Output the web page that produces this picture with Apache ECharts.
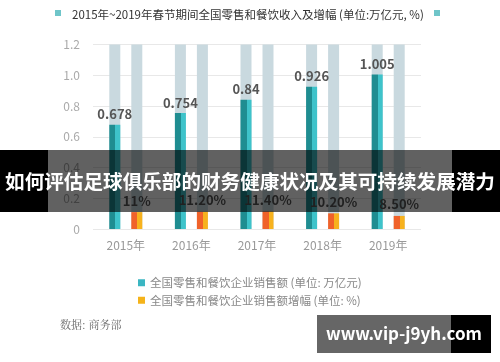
<!DOCTYPE html>
<html><head><meta charset="utf-8">
<script src="https://cdn.jsdelivr.net/npm/echarts@6/dist/echarts.min.js"></script>
<style>html,body{margin:0;padding:0;background:#fff}#c{width:500px;height:362px}</style>
</head><body><div id="c"></div>
<script>
var years = ['2015年','2016年','2017年','2018年','2019年'];
var sales = [0.678, 0.754, 0.84, 0.926, 1.005];
var growthPct = [11, 11.2, 11.4, 10.2, 8.5];
var growthLabels = ['11%','11.20%','11.40%','10.20%','8.50%'];
var yTicks = ['0','0.2','0.4','0.6','0.8','1.0','1.2'];
var titleText = '2015年~2019年春节期间全国零售和餐饮收入及增幅 (单位:万亿元, %)';
var seriesNames = ['全国零售和餐饮企业销售额 (单位: 万亿元)','全国零售和餐饮企业销售额增幅 (单位: %)'];
var bannerText = '如何评估足球俱乐部的财务健康状况及其可持续发展潜力';
var sourceText = '数据: 商务部';
var watermark = 'www.vip-j9yh.com';

var F = '"Noto Sans CJK SC", "Noto Sans", sans-serif';
var chart = echarts.init(document.getElementById('c'), null, {renderer:'canvas'});
function hGrad(a,b){return new echarts.graphic.LinearGradient(0,0,1,0,[{offset:0,color:a},{offset:0.55,color:a},{offset:0.55,color:b},{offset:1,color:b}]);}
chart.setOption({
  animation:false,
  textStyle:{fontFamily:F},
  title:{text:titleText,left:67,top:4,textStyle:{fontSize:11.5,fontWeight:'normal',color:'#333',fontFamily:F}},
  grid:{left:93,right:79,top:44.5,bottom:133},
  legend:{orient:'vertical',left:133,top:272,itemWidth:7,itemHeight:7,itemGap:6,icon:'rect',
    textStyle:{fontSize:11.5,color:'#888',fontFamily:F},
    data:[{name:seriesNames[0],itemStyle:{color:'#3bb6c2'}},{name:seriesNames[1],itemStyle:{color:'#f5b31a'}}]},
  xAxis:{type:'category',data:years,axisLine:{show:false},axisTick:{show:false},
    axisLabel:{color:'#999',fontSize:12,margin:10,fontFamily:F}},
  yAxis:{type:'value',min:0,max:1.2,interval:0.2,axisLine:{show:false},axisTick:{show:false},
    splitLine:{lineStyle:{color:'#e8e8e8'}},
    axisLabel:{color:'#aaa',fontSize:12,margin:13,fontFamily:F,formatter:function(v){return yTicks[Math.round(v/0.2)];}}},
  series:[
    {name:seriesNames[0],type:'bar',data:sales,barWidth:11,barGap:'100%',
      showBackground:true,backgroundStyle:{color:'#c9d9df'},
      itemStyle:{color:hGrad('#1f8d91','#3ec3ca')},
      label:{show:true,position:'top',distance:4,color:'#555',fontSize:13,fontWeight:'bold',fontFamily:F}},
    {name:seriesNames[1],type:'bar',data:growthPct.map(function(v){return v/100;}),barWidth:11,
      showBackground:true,backgroundStyle:{color:'#c9d9df'},
      itemStyle:{color:hGrad('#f0622a','#f7b21e')},
      label:{show:true,position:'top',distance:5,color:'#555',fontSize:13,fontWeight:'bold',fontFamily:F,
        formatter:function(p){return growthLabels[p.dataIndex];}}}
  ],
  graphic:[
    {type:'rect',left:55,top:10,shape:{width:6,height:6},style:{fill:'#6fc5c9'},z:10},
    {type:'rect',left:434,top:10,shape:{width:6,height:6},style:{fill:'#6fc5c9'},z:10},
    {type:'text',left:60,top:319,style:{text:sourceText,fill:'#666',font:'11px "Noto Serif CJK SC", "Noto Sans CJK SC", serif'},z:10},
    {type:'rect',left:0,top:150,shape:{width:48,height:62},style:{fill:'#000'},z:100},
    {type:'rect',left:452,top:150,shape:{width:48,height:62},style:{fill:'#000'},z:100},
    {type:'rect',left:48,top:150,shape:{width:404,height:62},style:{fill:'rgba(0,0,0,0.62)'},z:100},
    {type:'text',x:250,y:182,style:{text:bannerText,fill:'#fff',font:'bold 19.6px '+F,textAlign:'center',textVerticalAlign:'middle'},z:101},
    {type:'rect',left:317,top:315,shape:{width:134,height:38},style:{fill:'#666'},z:100},
    {type:'rect',left:451,top:315,shape:{width:40,height:38},style:{fill:'#000'},z:100},
    {type:'text',x:404,y:334,style:{text:watermark,fill:'#fff',font:'bold 17px '+F,textAlign:'center',textVerticalAlign:'middle'},z:101}
  ]
});
</script></body></html>
